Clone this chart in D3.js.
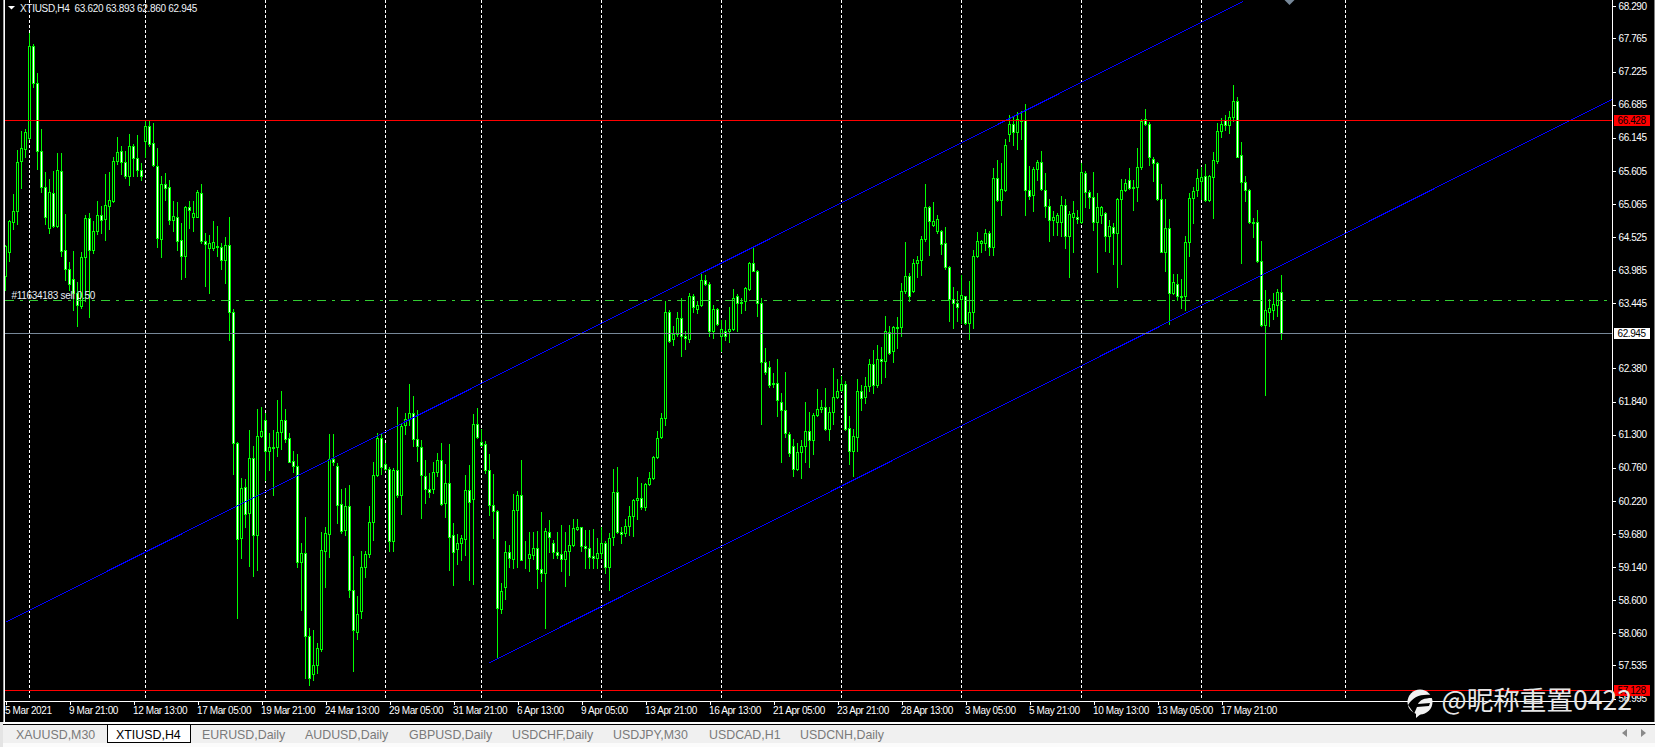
<!DOCTYPE html>
<html><head><meta charset="utf-8">
<script src="https://cdn.jsdelivr.net/npm/d3@7/dist/d3.min.js"></script>
<style>
html,body{margin:0;padding:0;background:#000;overflow:hidden}
svg{display:block}
text{font-family:"Liberation Sans",Arial,sans-serif}
</style></head><body>
<svg id="c" width="1655" height="747"></svg>
<script>
const opens=[63.88,64.27,64.77,64.94,65.75,65.96,66.13,67.64,67.03,65.92,
65.33,64.66,65.24,64.69,65.59,64.31,64.00,63.83,63.60,63.39,
64.19,64.83,64.30,64.61,64.88,64.81,65.03,65.10,65.75,65.92,
65.74,65.51,66.00,65.80,65.61,66.08,66.33,66.05,65.68,64.48,
65.38,65.33,64.79,64.84,64.47,64.20,65.01,64.85,64.85,65.24,
64.46,64.33,64.33,64.35,64.35,64.14,64.39,63.29,61.15,59.60,
60.44,60.01,60.91,59.65,61.27,61.53,61.02,61.08,61.09,61.33,
61.53,61.24,60.86,60.78,59.21,59.36,58.01,57.38,57.53,57.80,
59.40,59.67,60.89,60.78,60.16,59.73,60.13,58.75,58.08,58.42,
59.14,59.34,59.87,60.63,61.24,60.81,60.73,59.55,60.71,60.30,
61.45,61.55,61.64,61.22,61.09,60.62,60.41,60.41,60.68,60.88,
60.17,60.51,59.65,59.43,59.52,59.59,60.39,60.24,61.46,61.17,
61.14,60.71,60.14,60.05,58.45,58.81,59.38,59.26,60.06,60.30,
59.26,59.28,59.33,59.44,59.10,59.04,59.71,59.52,59.37,59.34,
59.27,59.40,59.49,59.75,59.78,59.47,59.45,59.31,59.28,59.36,
59.52,59.13,59.62,60.36,59.71,59.69,59.80,59.96,60.22,60.26,
60.12,60.49,60.58,60.93,61.25,61.56,63.29,62.86,62.94,63.19,
62.91,62.86,63.56,63.35,63.41,63.81,63.75,62.99,63.34,62.91,
62.99,62.99,63.01,63.55,63.44,63.48,63.67,64.10,63.96,63.44,
62.48,62.39,62.13,62.13,61.83,61.69,61.31,61.10,60.74,61.01,
61.10,61.35,61.21,61.61,61.71,61.75,61.39,61.66,61.90,62.02,
62.12,61.40,61.02,61.26,62.01,61.90,62.08,62.44,62.11,62.53,
62.49,62.97,62.65,63.04,63.05,63.64,63.88,63.64,64.09,64.14,
64.48,65.01,64.71,64.61,64.61,64.42,64.03,63.50,63.44,63.50,
63.55,63.12,63.29,64.20,64.42,64.42,64.58,64.36,65.48,65.12,
65.29,66.19,66.36,66.23,66.41,66.42,65.28,65.21,65.62,65.74,
65.28,65.03,64.79,64.77,64.77,65.04,64.53,64.84,64.84,64.76,
65.56,65.25,65.17,64.76,64.88,64.91,64.53,64.68,64.58,65.14,
65.28,65.45,65.33,65.33,65.66,66.44,66.36,65.79,65.72,65.14,
64.28,64.66,63.61,63.75,63.55,63.56,64.44,65.15,65.28,65.43,
65.51,65.12,65.50,65.76,66.24,66.42,66.34,66.48,66.74,65.86,
65.41,65.28,64.76,64.76,64.13,63.08,63.29,63.32,63.41,63.62];
const highs=[64.38,64.80,65.22,65.94,66.25,66.28,67.85,67.67,67.19,66.28,
65.58,65.46,65.59,65.89,65.88,64.90,64.11,64.29,63.79,64.28,
64.88,64.91,64.78,65.10,65.03,65.55,65.58,65.83,66.15,66.00,
65.92,66.20,66.04,66.18,65.72,66.42,66.41,66.38,65.97,65.51,
65.56,65.45,65.10,65.09,64.75,65.03,65.10,65.10,65.29,65.39,
64.58,64.55,64.78,64.70,64.42,64.52,64.84,63.35,61.18,60.58,
60.57,61.37,61.10,61.71,61.75,61.64,61.32,61.37,61.86,62.00,
61.71,61.32,61.02,60.97,59.52,59.95,58.14,58.11,57.90,59.71,
59.79,61.31,61.31,60.83,60.41,60.42,60.47,59.32,58.66,59.40,
59.40,60.13,60.85,61.32,61.32,61.15,60.76,60.75,61.74,61.47,
61.64,62.12,61.92,61.69,61.21,60.88,60.66,60.85,60.99,61.15,
60.82,61.14,59.85,59.67,59.66,60.64,60.80,61.63,61.73,61.38,
61.19,60.98,60.65,60.07,58.87,59.55,59.49,60.33,60.38,60.88,
59.55,59.71,59.71,59.72,60.03,59.77,59.90,59.58,59.71,59.82,
59.71,59.82,59.91,59.91,59.79,59.74,59.74,59.75,59.60,59.78,
59.55,59.69,60.74,60.76,59.79,59.91,60.13,60.24,60.60,60.50,
60.50,60.69,60.94,61.35,61.64,63.48,63.33,63.06,63.30,63.52,
62.98,63.60,63.58,63.47,63.91,63.89,63.78,63.41,63.36,63.16,
63.17,63.37,63.67,63.58,63.52,63.70,64.11,64.34,63.98,63.52,
62.70,62.49,62.30,62.53,61.97,62.31,61.34,61.22,61.15,61.20,
61.82,61.66,61.64,62.04,61.86,62.05,61.74,62.38,62.20,62.25,
62.16,61.59,61.39,62.20,62.11,62.24,62.53,62.67,62.75,62.73,
63.23,63.07,63.07,63.21,63.77,64.44,63.93,64.16,64.21,64.53,
65.38,65.03,65.09,64.87,64.63,64.68,64.05,63.70,63.63,63.90,
63.56,63.80,64.30,64.60,64.47,64.64,64.61,65.64,65.78,65.72,
66.12,66.51,66.48,66.56,66.58,66.69,65.68,65.66,65.78,65.92,
65.56,65.13,64.94,64.91,65.19,65.14,64.94,65.10,64.96,65.72,
65.59,65.29,65.58,65.24,65.02,64.92,64.80,64.75,65.15,65.46,
65.46,65.64,65.45,65.97,66.44,66.61,66.40,65.82,65.74,65.39,
65.14,64.81,63.91,63.91,63.83,64.54,65.24,65.33,65.62,65.66,
65.70,65.53,65.90,66.38,66.46,66.50,66.57,66.99,66.80,66.07,
65.51,65.30,64.83,64.95,64.45,63.66,63.50,63.60,63.67,63.893];
const lows=[63.66,64.12,64.64,64.73,65.31,65.83,66.12,66.97,65.62,65.25,
64.73,64.59,64.68,64.68,64.20,63.82,63.66,63.33,63.07,63.36,
63.47,63.22,64.26,64.57,64.58,64.47,64.65,65.09,65.70,65.55,
65.48,65.37,65.51,65.51,65.45,65.83,66.00,65.67,64.35,64.19,
65.12,64.73,64.61,64.31,63.84,63.86,64.66,64.61,64.84,64.42,
63.71,63.61,64.31,64.20,64.00,63.76,62.84,60.65,58.30,59.28,
59.79,59.15,58.98,59.09,61.26,60.56,60.72,60.30,60.95,61.06,
61.18,60.84,60.68,59.13,58.43,57.32,57.21,57.29,57.40,57.76,
58.80,59.29,60.80,59.85,59.68,59.66,58.65,57.43,57.96,58.30,
58.97,59.30,59.58,60.62,60.65,60.72,59.40,59.40,60.28,60.00,
61.31,61.45,61.10,60.87,59.93,60.18,60.28,60.34,60.62,60.15,
59.95,59.09,58.84,59.19,59.24,59.33,58.92,58.86,61.24,61.10,
60.67,59.98,59.60,57.65,58.38,58.61,59.13,59.11,59.14,59.24,
59.11,59.06,59.27,58.79,58.90,58.13,59.38,59.28,59.28,59.06,
58.82,59.00,59.47,59.74,59.39,59.11,59.11,59.11,59.11,59.28,
59.03,58.75,59.49,59.69,59.52,59.64,59.66,59.64,59.91,60.08,
60.07,60.47,60.57,60.91,61.24,61.45,62.81,62.75,62.91,62.58,
62.69,62.81,63.30,63.27,63.39,63.74,62.91,62.87,63.08,62.65,
62.84,62.81,63.00,62.99,63.28,63.33,63.66,63.96,63.23,61.47,
62.29,62.07,62.07,61.60,60.84,61.26,60.94,60.62,60.71,60.58,
60.85,60.76,60.98,61.59,61.67,61.37,61.21,61.47,61.89,62.01,
61.37,60.82,60.61,61.03,61.69,61.81,62.00,61.98,62.07,62.13,
62.24,62.61,62.47,62.70,62.90,63.60,63.47,63.62,63.87,63.90,
64.46,64.22,64.69,64.59,64.24,64.00,63.14,63.03,63.14,63.11,
63.09,62.86,63.04,64.19,64.28,64.31,64.22,64.23,65.10,64.88,
65.27,66.09,66.01,65.96,66.12,64.87,65.13,64.94,65.45,65.28,
64.85,64.46,64.55,64.55,64.54,64.34,63.87,64.28,64.75,64.75,
65.00,64.99,64.63,63.94,64.74,64.29,64.28,64.08,63.70,64.08,
65.26,65.30,64.95,65.10,65.63,66.35,65.69,65.43,65.12,64.27,
63.96,63.10,63.58,63.49,63.36,63.33,64.20,64.74,65.18,65.13,
65.10,65.10,64.82,65.72,66.15,66.27,66.21,66.41,65.82,64.10,
65.10,64.75,64.52,64.11,63.06,61.94,63.07,63.18,63.23,62.860];
const closes=[64.37,64.78,64.94,65.74,65.97,66.23,67.64,67.03,65.92,65.33,
64.85,65.25,64.70,65.61,64.29,64.00,63.75,63.60,63.41,64.19,
64.83,64.30,64.62,64.88,64.80,65.04,65.12,65.76,65.91,65.74,
65.51,66.00,65.80,65.61,65.51,66.33,66.03,65.69,64.50,65.38,
65.31,64.79,64.86,64.46,64.20,65.01,64.95,64.91,65.25,64.46,
64.41,64.42,64.43,64.37,64.14,64.39,63.29,61.15,59.59,60.43,
60.00,60.91,59.65,61.27,61.35,61.02,61.09,61.09,61.33,61.53,
61.22,60.85,60.78,59.21,59.36,58.00,57.33,57.53,57.81,59.41,
59.69,60.89,60.85,60.14,59.72,60.13,58.75,58.10,58.36,59.13,
59.34,59.87,60.63,61.24,60.76,60.73,59.55,60.71,60.30,61.43,
61.55,61.64,61.22,61.10,60.63,60.41,60.36,60.68,60.88,60.16,
60.51,59.63,59.37,59.52,59.61,60.39,60.20,61.46,61.25,61.13,
60.71,60.14,60.05,58.47,58.74,59.38,59.28,60.06,60.30,59.25,
59.27,59.34,59.44,59.10,59.03,59.72,59.62,59.37,59.33,59.27,
59.40,59.50,59.77,59.78,59.47,59.45,59.30,59.28,59.36,59.52,
59.13,59.60,60.36,59.71,59.67,59.80,59.96,60.23,60.26,60.11,
60.48,60.58,60.93,61.24,61.56,63.30,62.82,62.94,63.19,62.91,
62.87,63.56,63.37,63.41,63.81,63.75,62.99,63.34,63.10,63.01,
62.90,63.01,63.53,63.44,63.46,63.68,64.09,63.97,63.44,62.47,
62.31,62.11,62.12,61.85,61.69,61.32,60.99,60.73,61.01,61.10,
61.36,61.21,61.61,61.71,61.75,61.39,61.67,61.90,62.00,62.12,
61.39,61.02,61.27,62.01,61.89,62.08,62.44,62.11,62.53,62.49,
62.98,62.63,63.05,63.05,63.64,63.88,63.56,64.09,64.14,64.48,
65.01,64.78,64.78,64.81,64.40,64.02,63.50,63.44,63.37,63.57,
63.12,63.29,64.20,64.45,64.45,64.58,64.36,65.48,65.12,65.30,
66.02,66.36,66.23,66.45,66.43,65.28,65.18,65.63,65.74,65.30,
65.02,64.79,64.84,64.87,65.04,64.53,64.89,64.91,64.81,65.58,
65.25,65.17,64.76,65.00,65.00,64.53,64.69,64.58,65.14,65.28,
65.40,65.32,65.32,65.66,66.41,66.36,65.82,65.72,65.13,64.28,
64.66,63.60,63.78,63.55,63.54,64.44,65.15,65.27,65.48,65.50,
65.12,65.51,65.77,66.25,66.36,66.34,66.48,66.74,65.83,65.41,
65.29,64.77,64.75,64.12,63.08,63.33,63.36,63.43,63.62,62.945];

const timeLabels=["5 Mar 2021","9 Mar 21:00","12 Mar 13:00","17 Mar 05:00","19 Mar 21:00","24 Mar 13:00","29 Mar 05:00","31 Mar 21:00","6 Apr 13:00","9 Apr 05:00","13 Apr 21:00","16 Apr 13:00","21 Apr 05:00","23 Apr 21:00","28 Apr 13:00","3 May 05:00","5 May 21:00","10 May 13:00","13 May 05:00","17 May 21:00"];
const priceTicks=[68.29,67.765,67.225,66.685,66.145,65.605,65.065,64.525,63.985,63.445,62.38,61.84,61.3,60.76,60.22,59.68,59.14,58.6,58.06,57.535,56.995];
const gridBars=[6,35,65,95,119,149,179,209,239,269,299,335];
const channelUpper=[[0,58.24],[309.4,68.37]];
const channelLower=[[121,57.58],[401.6,66.77]];
const redLevels=[66.428,57.128];
const orderLevel=63.484, bidLevel=62.945;
const tabNames=["XAUUSD,M30","XTIUSD,H4","EURUSD,Daily","AUDUSD,Daily","GBPUSD,Daily","USDCHF,Daily","USDJPY,M30","USDCAD,H1","USDCNH,Daily"];
const tabTextX=[16,116,202,305,409,512,613,709,800];
const tabSeps=[294.5,398.5,502.5,602.5,698.5,790.5,894.5];

const W=1655,H=747,right=1612.5,bottom=701.5;
const svg=d3.select("#c");
const x=d3.scaleLinear().domain([0,319]).range([5.5,1281.5]);
const y=d3.scaleLinear().domain([68.392,57.128]).range([0,690.4]);
const py=v=>Math.floor(y(v))+.5;
const ink="#ffffff";

svg.append("rect").attr("width",W).attr("height",H).attr("fill","#000");
const defs=svg.append("defs");
defs.append("clipPath").attr("id","plot").append("rect").attr("x",5).attr("y",0).attr("width",right-5).attr("height",bottom);

const crisp=svg.append("g").attr("shape-rendering","crispEdges");

// period separators
crisp.append("g").selectAll("line").data(gridBars).join("line")
 .attr("x1",d=>x(d)).attr("x2",d=>x(d)).attr("y1",0).attr("y2",698)
 .attr("stroke","#fff").attr("stroke-dasharray","3 2");

// order label sits behind the candles
svg.append("text").attr("x",11.5).attr("y",298.5).attr("fill","#e8eef5").attr("font-size",10).attr("letter-spacing",-0.3)
 .text("#11634183 sell 0.50");

// candles
const idx=d3.range(opens.length);
const g=crisp.append("g");
g.selectAll("line").data(idx).join("line")
 .attr("x1",i=>x(i)).attr("x2",i=>x(i))
 .attr("y1",i=>Math.floor(y(highs[i]))).attr("y2",i=>Math.floor(y(lows[i]))+1)
 .attr("stroke","#00ff00");
g.selectAll("rect").data(idx).join("rect")
 .attr("x",i=>x(i)-1).attr("width",2)
 .attr("y",i=>py(Math.max(opens[i],closes[i])))
 .attr("height",i=>Math.max(0,py(Math.min(opens[i],closes[i]))-py(Math.max(opens[i],closes[i]))))
 .attr("fill",i=>closes[i]<opens[i]?"#fff":"#000")
 .attr("stroke","#00ff00");

// objects over candles
const plot=crisp.append("g").attr("clip-path","url(#plot)");
const trend=d3.line().x(d=>x(d[0])).y(d=>y(d[1]));
[channelUpper,channelLower].forEach(l=>plot.append("path").attr("d",trend(l)).attr("fill","none").attr("stroke","#0000ff"));
plot.selectAll("line.red").data(redLevels).join("line").attr("class","red")
 .attr("x1",5).attr("x2",right).attr("y1",py).attr("y2",py).attr("stroke","#ff0000");
plot.append("line").attr("x1",5).attr("x2",1608).attr("y1",py(orderLevel)).attr("y2",py(orderLevel))
 .attr("stroke","#32cd32").attr("stroke-dasharray","9 6 3 6");
plot.append("line").attr("x1",5).attr("x2",right).attr("y1",py(bidLevel)).attr("y2",py(bidLevel)).attr("stroke","#778899");
// off-window marker at the top of the chart
const mx=x(321);
plot.append("path").attr("d",`M${mx-5},0L${mx+5},0L${mx},5Z`).attr("fill","#778899").attr("shape-rendering","auto");

// axes
const yAxis=d3.axisRight(y).tickValues(priceTicks).tickFormat(d3.format(".3f")).tickSize(3).tickPadding(3);
const ya=svg.append("g").attr("transform",`translate(${right},0)`).call(yAxis);
ya.select(".domain").remove();
const xAxis=d3.axisBottom(x).tickValues(d3.range(0,320,16)).tickFormat((d,i)=>timeLabels[i]).tickSize(3).tickPadding(2.4);
const xa=svg.append("g").attr("transform",`translate(0,${bottom})`).call(xAxis);
xa.select(".domain").remove();
xa.selectAll("text").attr("text-anchor","start").attr("x",-1);
[ya,xa].forEach(a=>{
 a.attr("font-family",null).attr("font-size",null);
 a.selectAll("text").attr("fill",ink).attr("font-size",10).attr("letter-spacing",-0.4);
 a.selectAll("line").attr("stroke",ink).attr("shape-rendering","crispEdges");
});
crisp.append("line").attr("x1",5).attr("x2",right).attr("y1",bottom).attr("y2",bottom).attr("stroke","#fff");
crisp.append("line").attr("x1",right).attr("x2",right).attr("y1",0).attr("y2",bottom).attr("stroke","#fff");
crisp.append("line").attr("x1",4.5).attr("x2",4.5).attr("y1",0).attr("y2",722).attr("stroke","#fff");
crisp.append("line").attr("x1",3.5).attr("x2",3.5).attr("y1",0).attr("y2",722).attr("stroke","#a0a0a0");
crisp.append("line").attr("x1",1654.5).attr("x2",1654.5).attr("y1",0).attr("y2",722).attr("stroke","#808080");

// price tags
[[66.428,"#ff0000"],[62.945,"#ffffff"],[57.128,"#ff0000"]].forEach(([v,c])=>{
 const t=svg.append("g").attr("transform",`translate(1614,${py(v)})`);
 t.append("rect").attr("x",0).attr("y",-6).attr("width",36).attr("height",11).attr("fill",c).attr("shape-rendering","crispEdges");
 t.append("text").attr("x",3.5).attr("y",3.2).attr("font-size",10).attr("letter-spacing",-0.4).attr("fill","#000").text(v.toFixed(3));
});

// header
svg.append("path").attr("d","M8,6L15,6L11.5,9.5Z").attr("fill","#fff");
svg.append("text").attr("x",20).attr("y",11.5).attr("fill","#eef3f8").attr("font-size",10).attr("letter-spacing",-0.3)
 .style("white-space","pre").text("XTIUSD,H4  63.620 63.893 62.860 62.945");

// tab bar
svg.append("rect").attr("x",0).attr("y",722).attr("width",W).attr("height",2).attr("fill","#fff");
svg.append("rect").attr("x",0).attr("y",724).attr("width",W).attr("height",1).attr("fill","#000");
svg.append("rect").attr("x",0).attr("y",725).attr("width",W).attr("height",18).attr("fill","#f0f0f0");
svg.append("rect").attr("x",0).attr("y",743).attr("width",W).attr("height",4).attr("fill","#fbfbfb");
svg.append("rect").attr("x",0).attr("y",722).attr("width",3).attr("height",25).attr("fill","#e4e4e4");
svg.append("path").attr("d","M107.5,724.5V742.5H190.5V724.5").attr("fill","#fff").attr("stroke","#000").attr("shape-rendering","crispEdges");
crisp.append("g").selectAll("line").data(tabSeps).join("line")
 .attr("x1",d=>d).attr("x2",d=>d).attr("y1",727).attr("y2",741).attr("stroke","#6e6e6e");
svg.append("g").selectAll("text").data(tabNames).join("text")
 .attr("x",(d,i)=>tabTextX[i]).attr("y",739).attr("font-size",12.4)
 .attr("fill",(d,i)=>i===1?"#000":"#7a7a7a").text(d=>d);
svg.append("path").attr("d","M1627,729V737L1622,733Z").attr("fill","#8a8a8a");
svg.append("path").attr("d","M1641,729V737L1646,733Z").attr("fill","#8a8a8a");

// watermark
const wm=svg.append("g");
wm.append("circle").attr("cx",1420).attr("cy",702).attr("r",12.5).attr("fill","#f2f2f2");
wm.append("path").attr("d","M1416,712L1416,718L1428,708Z").attr("fill","#f2f2f2");
wm.append("path").attr("d","M1408,705C1414,696 1420,694 1432,695L1432,698C1424,698 1420,700 1418,704L1430,703L1429,706L1417,707L1414,714C1412,710 1410,708 1408,705Z").attr("fill","#000");
wm.append("text").attr("x",1441.5).attr("y",710).attr("font-size",26.6)
 .style("font-family",'"Noto Sans CJK SC",sans-serif').attr("fill","#e6e6e6").text("@昵称重置0422");
</script>
</body></html>
